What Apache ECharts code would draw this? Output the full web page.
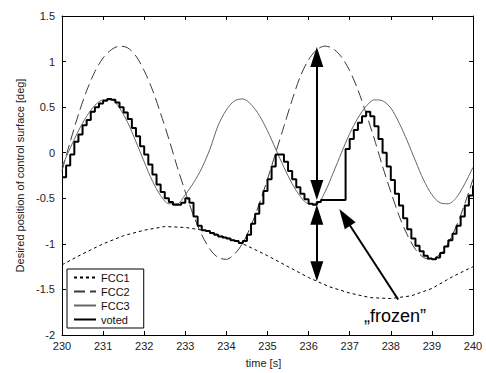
<!DOCTYPE html>
<html>
<head>
<meta charset="utf-8">
<script src="https://cdn.jsdelivr.net/npm/echarts@6/dist/echarts.min.js"></script>
<style>html,body{margin:0;padding:0;background:#fff}#c{width:486px;height:373px}</style>
</head>
<body>
<div id="c"></div>
<script>
// time grids [s]
var t05 = [230,230.5,231,231.5,232,232.5,233,233.5,234,234.5,235,235.5,236,236.5,237,237.5,238,238.5,239,239.5,240];
var t02 = [230,230.2,230.4,230.6,230.8,231,231.2,231.4,231.6,231.8,232,232.2,232.4,232.6,232.8,233,233.2,233.4,233.6,233.8,234,234.2,234.4,234.6,234.8,235,235.2,235.4,235.6,235.8,236,236.2,236.4,236.6,236.8,237,237.2,237.4,237.6,237.8,238,238.2,238.4,238.6,238.8,239,239.2,239.4,239.6,239.8,240];
var t01 = [230,230.1,230.2,230.3,230.4,230.5,230.6,230.7,230.8,230.9,231,231.1,231.2,231.3,231.4,231.5,231.6,231.7,231.8,231.9,232,232.1,232.2,232.3,232.4,232.5,232.6,232.7,232.8,232.9,233,233.1,233.2,233.3,233.4,233.5,233.6,233.7,233.8,233.9,234,234.1,234.2,234.3,234.4,234.5,234.6,234.7,234.8,234.9,235,235.1,235.2,235.3,235.4,235.5,235.6,235.7,235.8,235.9,236,236.1,236.2,236.3,236.4,236.5,236.6,236.7,236.8,236.9,237,237.1,237.2,237.3,237.4,237.5,237.6,237.7,237.8,237.9,238,238.1,238.2,238.3,238.4,238.5,238.6,238.7,238.8,238.9,239,239.1,239.2,239.3,239.4,239.5,239.6,239.7,239.8,239.9,240];

// FCC1 (on t05)
var fcc1 = [-1.23,-1.11,-1.00,-0.91,-0.85,-0.81,-0.82,-0.855,-0.93,-1.02,-1.13,-1.25,-1.37,-1.47,-1.54,-1.59,-1.60,-1.57,-1.49,-1.36,-1.25];
// FCC2 (on t02)
var fcc2 = [-0.20,0.12,0.42,0.68,0.89,1.04,1.13,1.17,1.15,1.06,0.90,0.69,0.43,0.15,-0.15,-0.43,-0.69,-0.90,-1.06,-1.15,-1.17,-1.11,-0.99,-0.80,-0.56,-0.29,0.00,0.29,0.58,0.84,1.02,1.13,1.17,1.14,1.05,0.90,0.69,0.43,0.15,-0.15,-0.43,-0.69,-0.90,-1.06,-1.15,-1.17,-1.11,-0.99,-0.80,-0.56,-0.29];
// FCC3 (on t02)
var fcc3 = [-0.15,0.05,0.24,0.40,0.52,0.58,0.58,0.49,0.33,0.12,-0.10,-0.31,-0.47,-0.56,-0.56,-0.46,-0.33,-0.17,0.04,0.30,0.47,0.57,0.59,0.53,0.41,0.24,0.04,-0.16,-0.34,-0.48,-0.56,-0.56,-0.43,-0.22,0.00,0.21,0.38,0.51,0.58,0.57,0.49,0.33,0.13,-0.09,-0.30,-0.46,-0.55,-0.56,-0.49,-0.34,-0.16];
// voted (on t01, sample-and-hold)
var voted = [-0.27,-0.14,-0.02,0.12,0.20,0.30,0.36,0.45,0.50,0.54,0.57,0.59,0.58,0.55,0.50,0.44,0.37,0.27,0.18,0.07,-0.02,-0.13,-0.24,-0.35,-0.43,-0.50,-0.54,-0.57,-0.57,-0.55,-0.50,-0.55,-0.70,-0.80,-0.85,-0.86,-0.88,-0.90,-0.92,-0.93,-0.94,-0.96,-0.97,-0.99,-0.97,-0.90,-0.78,-0.67,-0.56,-0.42,-0.29,-0.15,-0.02,-0.02,-0.10,-0.20,-0.29,-0.38,-0.45,-0.51,-0.56,-0.57,-0.54,-0.52,-0.52,-0.52,-0.52,-0.52,-0.52,0.04,0.15,0.25,0.33,0.40,0.45,0.40,0.29,0.15,0.00,-0.15,-0.30,-0.45,-0.58,-0.72,-0.84,-0.94,-1.02,-1.08,-1.13,-1.16,-1.17,-1.15,-1.10,-1.03,-0.96,-0.89,-0.80,-0.70,-0.58,-0.47,-0.36];

var xTicks = [230,231,232,233,234,235,236,237,238,239,240];
var yTicks = [-2,-1.5,-1,-0.5,0,0.5,1,1.5];
var seriesNames = ['FCC1','FCC2','FCC3','voted'];

// annotation anchors (data coords; arrow heads are centred on these points)
var arrowT = 236.2;
var arrowUpperTop = 1.05, arrowUpperBottom = -0.41;
var arrowLowerTop = -0.68, arrowLowerBottom = -1.30;
var frozenFrom = [238.18, -1.61], frozenTo = [236.88, -0.71];
var frozenLabelAt = [238.1, -1.79];

function zip(a, b) { return a.map(function (x, i) { return [x, b[i]]; }); }

var FONT = 'Liberation Sans, Arial, sans-serif';
var chart = echarts.init(document.getElementById('c'), null, {renderer: 'svg'});

var axisCommon = {
  axisLine: {show: true, onZero: false, lineStyle: {color: '#000', width: 1}},
  axisTick: {show: true, inside: true, length: 4, lineStyle: {color: '#000'}},
  splitLine: {show: false}
};

chart.setOption({
  animation: false,
  backgroundColor: '#fff',
  grid: {left: 62, right: 13, top: 16, bottom: 33},
  xAxis: [
    Object.assign({}, axisCommon, {
      type: 'value', min: 230, max: 240, interval: 1, position: 'bottom',
      name: 'time [s]', nameLocation: 'middle', nameGap: 22,
      nameTextStyle: {fontFamily: FONT, fontSize: 11, color: '#222', padding: [0, 8, 0, 0]},
      axisLabel: {fontFamily: FONT, fontSize: 11, color: '#222', margin: 5}
    }),
    Object.assign({}, axisCommon, {
      type: 'value', min: 230, max: 240, interval: 1, position: 'top',
      axisLabel: {show: false}
    })
  ],
  yAxis: [
    Object.assign({}, axisCommon, {
      type: 'value', min: -2, max: 1.5, interval: 0.5, position: 'left',
      name: 'Desired position of control surface [deg]', nameLocation: 'middle', nameGap: 29,
      nameTextStyle: {fontFamily: FONT, fontSize: 11, color: '#222'},
      axisLabel: {fontFamily: FONT, fontSize: 11, color: '#222', margin: 7}
    }),
    Object.assign({}, axisCommon, {
      type: 'value', min: -2, max: 1.5, interval: 0.5, position: 'right',
      axisLabel: {show: false}
    })
  ],
  legend: {
    data: seriesNames,
    orient: 'vertical', left: 67, top: 269,
    itemWidth: 22, itemHeight: 12, itemGap: 3, itemTextGap: 7,
    padding: [3, 14, 3, 6],
    itemStyle: {opacity: 0},
    backgroundColor: '#fff', borderColor: '#000', borderWidth: 1, borderRadius: 0,
    textStyle: {fontFamily: FONT, fontSize: 11, color: '#111'}
  },
  series: [
    {name: 'FCC1', type: 'line', symbol: 'none', data: zip(t05, fcc1), z: 2,
     lineStyle: {color: '#000', width: 1, type: [3, 3]}, itemStyle: {color: '#000'}},
    {name: 'FCC2', type: 'line', symbol: 'none', data: zip(t02, fcc2), smooth: 0.3, z: 2,
     lineStyle: {color: '#3a3a3a', width: 1, type: [11, 5]}, itemStyle: {color: '#3a3a3a'}},
    {name: 'FCC3', type: 'line', symbol: 'none', data: zip(t02, fcc3), smooth: 0.3, z: 2,
     lineStyle: {color: '#666', width: 1}, itemStyle: {color: '#666'}},
    {name: 'voted', type: 'line', symbol: 'none', step: 'end', data: zip(t01, voted), z: 3,
     lineStyle: {color: '#000', width: 2}, itemStyle: {color: '#000'}},
    {name: 'annot', type: 'line', data: [], z: 5,
     markLine: {
       silent: true, symbol: ['triangle', 'triangle'], symbolSize: [13, 20],
       label: {show: false},
       lineStyle: {color: '#000', width: 2, type: 'solid'},
       data: [
         [{coord: [arrowT, arrowUpperTop]}, {coord: [arrowT, arrowUpperBottom]}],
         [{coord: [arrowT, arrowLowerTop]}, {coord: [arrowT, arrowLowerBottom]}],
         [{coord: frozenFrom, symbol: 'none'}, {coord: frozenTo, symbol: 'triangle'}]
       ]
     },
     markPoint: {
       silent: true, symbol: 'circle', symbolSize: 0,
       label: {show: true, position: 'inside', formatter: '\u201Efrozen\u201D', fontFamily: FONT, fontSize: 18, color: '#000'},
       data: [{coord: frozenLabelAt}]
     }}
  ]
});
</script>
</body>
</html>
